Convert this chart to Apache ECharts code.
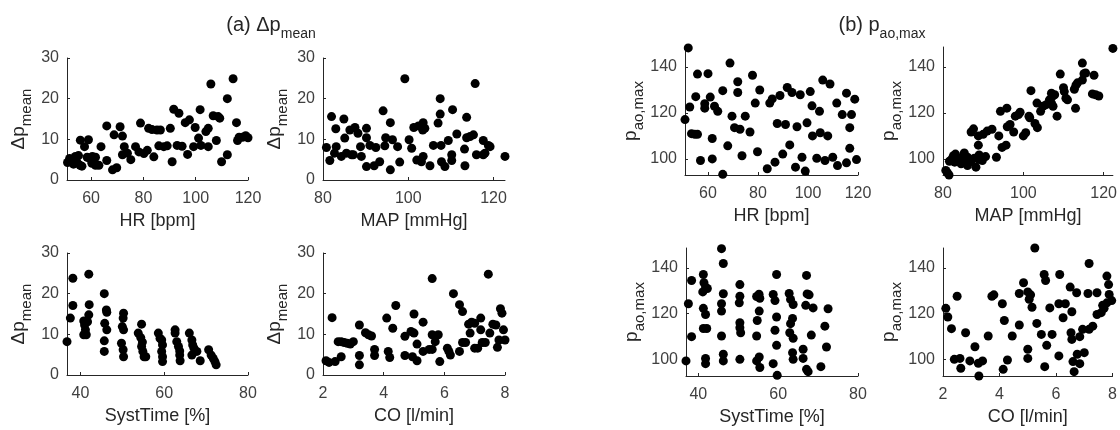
<!DOCTYPE html>
<html>
<head>
<meta charset="utf-8">
<script src="https://cdn.jsdelivr.net/npm/echarts@6/dist/echarts.min.js"></script>
<style>
  html, body { margin: 0; padding: 0; background: #fff; }
  #chart { width: 1120px; height: 430px; }
</style>
</head>
<body>
<div id="chart"></div>
<script>
// tick labels
var hrTicks = [60, 80, 100, 120];
var mapTicks = [80, 100, 120];
var systTicks = [40, 60, 80];
var coTicks = [2, 4, 6, 8];
var dpTicks = [0, 10, 20, 30];
var pTicks = [100, 120, 140];

// (a) delta p mean vs HR, MAP, SystTime, CO
var hrDp = [[51,4.3],[51.8,5.3],[52.8,4.8],[53.3,3.9],[54,5.8],[54.6,4.4],[55.2,6.0],[55.8,3.6],[56.5,3.4],[55.9,9.8],[59,9.9],[57.5,8.2],[58.5,5.6],[59.5,5.3],[60.5,5.8],[61.7,5.6],[60.3,4.1],[61.7,3.6],[63,3.6],[63.8,8.2],[66,13.3],[66,4.8],[68.2,2.5],[69.8,3.0],[68.8,11.1],[71.1,13.1],[72,10.8],[72.7,8.2],[72,6.2],[73.9,6.6],[75.2,5.0],[77,8.2],[78.9,14],[78.3,6.9],[80.2,6.5],[81.5,7.3],[82,12.7],[83.3,12.4],[85.2,12.3],[86.5,12.3],[84,5.7],[85.9,8.4],[87.8,8.2],[89.1,8.4],[90.3,12.7],[91,4.5],[91.6,17.4],[93.6,16.4],[92.9,8.5],[94.8,8.3],[96,14.1],[97.6,14.8],[96.9,6.3],[99.2,8.2],[99.8,12.9],[101.1,10.3],[101.7,17.3],[102,8.5],[103.9,11.9],[104.8,12.7],[104.8,8.2],[105.8,23.6],[106.7,15.8],[108.6,15.6],[109.2,15.2],[107.9,9.7],[109.9,4.5],[112.1,20],[112.1,6.2],[114.3,24.9],[115.6,14.1],[116,9.7],[116.6,10.5],[117.9,10.5],[119.1,10.9],[120,10.4]];
var mapDp = [[80.8,8.0],[81.6,4.8],[82,15.6],[83,12.6],[83.1,8.2],[82.7,6.6],[84.3,5.8],[84.9,15.0],[85.1,10.3],[85.5,6.6],[86.7,6.2],[87.1,6.2],[86.3,12.3],[87.5,12.9],[88.2,11.5],[88.8,8.2],[89,5.8],[90.2,12.7],[90.2,10.4],[90.2,3.3],[91,8.5],[92,3.5],[92.4,8.0],[93.3,4.5],[94.1,17.0],[94.5,8.4],[94.7,10.4],[95.8,14.1],[95.8,2.5],[96.3,9.9],[97.5,8.2],[98,4.4],[99.2,24.9],[100.2,9.9],[100.8,7.8],[101.3,12.9],[102,4.9],[102.4,13.3],[103.1,4.5],[103.5,5.8],[103.5,14.1],[103.4,12.3],[103.9,12.7],[105.1,3.5],[105.9,8.5],[107,14],[107.5,20],[107.5,16.2],[107.7,8.5],[107.8,4.5],[108.6,3.3],[109.4,9.7],[110.2,4.8],[110.2,6.2],[110.4,17.3],[111.4,11.3],[113.2,7.6],[113.3,3.5],[113.7,15.4],[113.7,10.4],[114.5,10.7],[115.3,11.1],[115.7,23.7],[116,6.2],[117.6,9.7],[117.6,6.2],[118,6.6],[118.8,8.5],[119.2,8.2],[122.7,5.8]];
var systDp = [[36.8,8.2],[37.6,14.0],[38.2,23.8],[38.2,17.1],
  [40.8,13.3],[41,12.3],[41.2,11.1],[41.4,9.9],[42,24.8],[42.1,17.3],[42,14.8],[41.7,13.1],[40.8,9.9],
  [45.7,20],[46.2,16],[46.3,15.4],[45.8,12.7],[46.3,11.1],[45.7,8.4],[45.7,5.8],
  [50.3,15.2],[50.2,14],[50,11.9],[50.3,11.1],[49.8,7.8],[50.2,6.2],[50.3,4.5],
  [54.6,12.5],[53.8,10.3],[54.4,9.2],[54.8,8.1],[54.6,7],[54.9,5.8],[55.2,4.5],[55.6,4.5],
  [58.6,10.3],[59,9],[59.4,8.6],[59.6,7.4],[59.4,5.8],[59.6,4.5],[59.6,3.3],
  [62.6,11.1],[62.6,10.3],[63,8.2],[63.4,7],[63.7,5.9],[63.7,4.9],[63.8,3.5],
  [66,10.3],[66.6,8.6],[66.8,7.4],[67.1,6.6],[66.6,4.9],[67.8,5.8],[68.6,3.5],
  [70.6,6.2],[71.2,4.9],[71.7,4.1],[72.1,3.3],[72.4,2.5]];
var coDp = [[2.1,3.5],[2.2,3.1],[2.3,14.1],[2.4,3.3],[2.5,8.2],[2.6,8.2],[2.7,8.0],[2.6,4.5],[2.8,7.8],[2.9,7.6],[3.0,8.2],[3.2,2.5],[3.2,12.3],[3.2,4.8],[3.4,10.4],[3.5,9.9],[3.6,9.6],[3.7,4.8],[3.7,6.3],[4.1,14],[4.15,5.8],[4.2,4.3],[4.3,11.5],[4.4,17.1],[4.7,4.8],[4.7,9.5],[4.9,10.7],[4.95,4.5],[5.0,15],[5.0,10.3],[5.1,7.6],[5.1,3.5],[5.3,5.8],[5.3,13],[5.5,6.3],[5.6,6.3],[5.6,23.7],[5.6,9.9],[5.7,8.2],[5.8,9.9],[5.85,3.3],[6.1,6.6],[6.15,5.8],[6.2,4.9],[6.3,20],[6.5,17.3],[6.6,15.6],[6.5,5.8],[6.6,8.0],[6.7,8.0],[6.8,12.5],[6.9,13.0],[7.0,12.7],[6.85,10.3],[7.0,6.6],[7.1,6.6],[7.2,14],[7.2,11.1],[7.25,8.0],[7.35,8.0],[7.45,24.8],[7.5,10.3],[7.6,12.5],[7.7,12.3],[7.75,6.8],[7.8,8.6],[7.85,16.3],[7.9,15.2],[7.95,11.1],[8.0,8.6]];

// (b) p ao,max vs HR, MAP, SystTime, CO
var hrP = [[52.1,148.3],[50.8,117.1],[52.7,122.6],[53.4,111],[54.7,110.7],[55.8,110.7],[55.1,127.1],[55.8,136.9],[57,99.3],[60,137.1],[58.7,124],[58.7,122.1],[60.9,126.9],[61.7,108.9],[61.7,100],[62.6,122.9],[63.9,120.7],[65.9,129.7],[65.9,93.3],[67.9,105.7],[68.8,141.7],[69.6,118.6],[70.6,113.6],[71.9,133.6],[71.9,128.9],[72.8,112.9],[73.6,101.4],[74.9,118.6],[76.8,111.7],[77.8,136.4],[78.9,124.3],[79.8,103.1],[80.7,130],[83.7,95.7],[84.7,124.3],[85.7,126.1],[86.8,98.6],[87.7,115.4],[88.8,127.6],[89.9,102.1],[91,115],[91.7,131.1],[92.7,106.1],[93.6,128.9],[95,96.4],[95.6,114],[96.9,127.9],[97.6,100.7],[98.9,94.7],[99.6,115.7],[100.9,129.3],[101.6,123.1],[101.8,110],[103.5,100.3],[104.6,120.7],[104.9,111.4],[105.9,134.3],[106.8,99.3],[107.9,110],[108.8,132.6],[109.9,100.7],[111.5,124.3],[111.8,97.1],[113.7,119.3],[115.4,128.6],[115.4,98.3],[118.7,126],[117.4,119.3],[116.7,113.6],[116.7,104.6],[119.4,99.7]];
var mapP = [[80.7,95],[81.1,94],[81.5,93],[81.6,99],[82.2,100],[82.6,101.4],[83.1,102.1],[82.9,98.6],[83.7,99.7],[84.3,100.3],[84.5,97.9],[85.3,102.6],[85.3,98.6],[86.1,97.1],[86.1,100.7],[86.9,98.9],[87.8,100.3],[88.2,96.4],[89,99.7],[89.8,99.3],[87,111.7],[87.6,113.1],[88.8,110],[90,110.7],[91,112.1],[92.2,112.9],[88.8,106],[89,101.7],[90.6,101],[93.3,100.7],[93.9,110],[94.3,120.7],[94.7,105],[95.7,106],[95.9,122.1],[96,114],[96.7,115],[97.6,111.7],[98,118.6],[98.8,119.3],[99.2,120.3],[100,110],[100.6,111.4],[101.4,118.6],[101.6,117.9],[101.9,129.7],[102.9,115.4],[103.5,113.6],[103.4,124.3],[104.3,120.7],[104.9,122.9],[105.7,123.6],[106.5,125.7],[107.2,127.1],[107.8,127.9],[107,124.3],[107.4,122.9],[107,128.6],[108.4,118.6],[109.2,136.9],[110,131],[110.2,129.3],[110.6,126.4],[111,125.7],[112.7,130.3],[113.1,132.1],[113.5,133.1],[114.7,134.3],[115.1,137.1],[115.5,137.4],[113,122],[114.7,141.7],[117.6,136.4],[117.2,128.3],[118,127.9],[118.8,127.4],[122.3,148.1]];
var systP = [[36.9,99.3],[37.5,124.3],[38.3,134.5],[38.3,109.9],
  [41.25,137.1],[41.4,133.5],[41.8,131.6],[42.25,131],[41.1,129.5],[41.25,122.3],[41.8,119.6],[41.25,113.5],[42.1,113.5],[41.8,100.4],[41.8,98.1],
  [45.8,148.4],[46.25,141.9],[46.25,128.7],[45.8,124.3],[45.8,121.1],[45.8,110.2],[46.25,102.2],[46.25,99.3],
  [50.4,132.7],[50.4,127.6],[50.25,124.7],[50.4,116],[50.4,113.8],[50.6,111.6],[50.4,100],
  [55.2,128.5],[55.4,126.7],[54.6,127.5],[55.25,121.1],[54.75,117],[54.6,110.2],[54.6,99.3],[55.25,101],[55.4,96.4],
  [58.75,128.4],[59.2,125.7],[59.6,137.1],[59.6,118.5],[59.2,112.7],[59.6,106.1],[58.75,98.1],[59.75,93],
  [62.75,128.8],[63.1,126.2],[63.75,124],[63.6,117.9],[63.1,115.6],[62.9,111.6],[63.75,109.2],[63.6,102.9],[63.75,100],
  [66.25,104.4],[66.25,100.4],[67.1,136.7],[67.25,128.6],[67.75,128.2],[66.9,123.6],[67.5,94.6],[67.1,95.6],[68.3,110.6],
  [68.75,122.5],[70.7,96.8],[71.7,114.5],[72.1,105.4],[72.5,122.1]];
var coP = [[2.1,122.3],[2.17,118.5],[2.3,113.4],[2.4,100],[2.5,127.6],[2.6,100.4],[2.63,96.1],[2.8,111.6],[2.95,99.3],[3.13,105.5],[3.25,98.3],[3.27,92.7],[3.4,99.3],[3.6,110.2],[3.73,127.6],[3.8,128.2],[4.1,124.3],[4.13,95.6],[4.17,117],[4.28,99.7],[4.45,110.2],[4.7,115],[4.7,128.8],[4.85,133.5],[5.0,129.5],[5.05,126.3],[5.1,128.2],[5.0,100.4],[5.0,104.4],[5.15,122.8],[5.25,148.7],[5.32,115.7],[5.48,110.9],[5.58,137.1],[5.63,134.5],[5.6,96.8],[5.67,106.1],[5.78,122.5],[5.86,110.9],[6.1,124.3],[6.33,124.3],[6.13,137.1],[6.1,101.5],[6.25,118.2],[6.5,131.6],[6.56,120.8],[6.53,111.6],[6.56,108.7],[6.6,99],[6.64,94.6],[6.73,129.1],[6.75,102.2],[6.84,109.9],[6.84,98.1],[6.94,113.1],[7.0,102.9],[7.13,128.8],[7.17,141.9],[7.17,113.1],[7.3,114.5],[7.45,129.1],[7.45,119.6],[7.6,120.4],[7.65,123.6],[7.7,122.3],[7.8,124.7],[7.8,136.4],[7.86,132.7],[7.88,128.4],[7.97,125.7]];

var textColor = '#262626';
var font = '"Liberation Sans", Arial, Helvetica, sans-serif';
// subscripts: smaller text pushed down with top padding
var titleRich = {
  m: { fontSize: 20, color: textColor, fontFamily: font },
  s: { fontSize: 14, color: textColor, fontFamily: font, padding: [17, 0, 0, 0] }
};
var nameRich = {
  m: { fontSize: 19, color: textColor, fontFamily: font },
  s: { fontSize: 15, color: textColor, fontFamily: font, padding: [16, 0, 0, 0] }
};
var dpName = '{m|Δp}{s|mean}';
var pName = '{m|p}{s|ao,max}';

var panels = [
  { data: hrDp, box: [67, 58, 181, 122], x: [50.8, 120], xTicks: hrTicks, y: [0, 30], yTicks: dpTicks, xName: 'HR [bpm]', yName: dpName, gap: 33 },
  { data: mapDp, box: [323, 58, 182, 122], x: [80, 122.7], xTicks: mapTicks, y: [0, 30], yTicks: dpTicks, xName: 'MAP [mmHg]', yName: dpName, gap: 33 },
  { data: systDp, box: [67, 253, 181, 122], x: [36.8, 80], xTicks: systTicks, y: [0, 30], yTicks: dpTicks, xName: 'SystTime [%]', yName: dpName, gap: 33 },
  { data: coDp, box: [323, 253, 182, 122], x: [2, 8], xTicks: coTicks, y: [0, 30], yTicks: dpTicks, xName: 'CO [l/min]', yName: dpName, gap: 33 },
  { data: hrP, box: [685, 47, 173, 128], x: [50.8, 120], xTicks: hrTicks, y: [93, 148.7], yTicks: pTicks, xName: 'HR [bpm]', yName: pName, gap: 39 },
  { data: mapP, box: [943, 47, 173, 128], x: [80, 122.3], xTicks: mapTicks, y: [93, 148.7], yTicks: pTicks, xName: 'MAP [mmHg]', yName: pName, gap: 39 },
  { data: systP, box: [686, 248, 172, 128], x: [36.9, 80], xTicks: systTicks, y: [92.7, 148.7], yTicks: pTicks, xName: 'SystTime [%]', yName: pName, gap: 39 },
  { data: coP, box: [943, 248, 173, 128], x: [2, 8], xTicks: coTicks, y: [92.7, 148.7], yTicks: pTicks, xName: 'CO [l/min]', yName: pName, gap: 39 }
];

var option = {
  animation: false,
  backgroundColor: '#fff',
  title: [
    { text: '{m|(a) Δp}{s|mean}', left: 266, top: 5, textAlign: 'center',
      textStyle: { fontWeight: 'normal', rich: titleRich } },
    { text: '{m|(b) p}{s|ao,max}', left: 877, top: 5, textAlign: 'center',
      textStyle: { fontWeight: 'normal', rich: titleRich } }
  ],
  grid: [], xAxis: [], yAxis: [], series: []
};

function axisBase(ticks, margin) {
  return {
    axisLine: { show: true, lineStyle: { color: '#262626', width: 1 } },
    axisTick: { show: true, inside: true, length: 3, customValues: ticks, lineStyle: { color: '#262626' } },
    axisLabel: { customValues: ticks, margin: margin, fontSize: 16, color: '#404040', fontFamily: font },
    splitLine: { show: false }
  };
}

panels.forEach(function (p, i) {
  option.grid.push({ left: p.box[0], top: p.box[1], width: p.box[2], height: p.box[3] });
  var xa = axisBase(p.xTicks, 11);
  xa.gridIndex = i; xa.type = 'value'; xa.min = p.x[0]; xa.max = p.x[1];
  xa.name = p.xName; xa.nameLocation = 'middle'; xa.nameGap = 32;
  xa.nameTextStyle = { fontSize: 18, color: textColor, fontFamily: font };
  option.xAxis.push(xa);
  var ya = axisBase(p.yTicks, 8);
  ya.gridIndex = i; ya.type = 'value'; ya.min = p.y[0]; ya.max = p.y[1];
  ya.name = p.yName; ya.nameLocation = 'middle'; ya.nameRotate = 90; ya.nameGap = p.gap;
  ya.nameTextStyle = { rich: nameRich };
  option.yAxis.push(ya);
  option.series.push({
    type: 'scatter', xAxisIndex: i, yAxisIndex: i, data: p.data,
    symbol: 'circle', symbolSize: 9, clip: false,
    itemStyle: { color: '#000', opacity: 1 }
  });
});

var chart = echarts.init(document.getElementById('chart'));
chart.setOption(option);
</script>
</body>
</html>
